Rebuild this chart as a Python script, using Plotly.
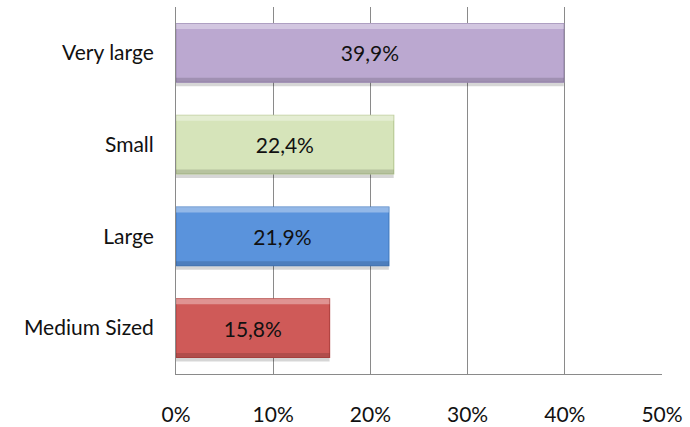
import plotly.graph_objects as go

# Company size shares (percent)
categories = ["Medium Sized", "Large", "Small", "Very large"]
values = [15.8, 21.9, 22.4, 39.9]
fill_colors = ["#CF5A58", "#5A93DC", "#D6E4BA", "#BBA8D0"]
edge_colors = ["#B24442", "#417BC4", "#BACB96", "#9E8BB6"]
x_ticks = [0, 10, 20, 30, 40, 50]
x_tick_labels = ["0%", "10%", "20%", "30%", "40%", "50%"]

labels = [f"{v:.1f}".replace(".", ",") + "%" for v in values]

FONT = "Lato, Open Sans, sans-serif"
BAR_W = 0.64

fig = go.Figure()

# soft drop shadow under each bar
fig.add_trace(go.Bar(
    x=values, y=categories, orientation="h",
    width=BAR_W, offset=-BAR_W / 2 - 0.045,
    marker=dict(color="rgba(0,0,0,0.16)", line=dict(width=0)),
    hoverinfo="skip",
))

# main bars
fig.add_trace(go.Bar(
    x=values, y=categories, orientation="h",
    width=BAR_W, offset=-BAR_W / 2,
    marker=dict(color=fill_colors, line=dict(color=edge_colors, width=1.2)),
    hoverinfo="skip",
))

# bevel: light strip along the top edge
fig.add_trace(go.Bar(
    x=values, y=categories, orientation="h",
    width=0.06, offset=BAR_W / 2 - 0.06,
    marker=dict(color="rgba(255,255,255,0.35)", line=dict(width=0)),
    hoverinfo="skip",
))

# bevel: dark strip along the bottom edge
fig.add_trace(go.Bar(
    x=values, y=categories, orientation="h",
    width=0.05, offset=-BAR_W / 2,
    marker=dict(color="rgba(0,0,0,0.14)", line=dict(width=0)),
    hoverinfo="skip",
))

# value labels centred in each bar
fig.add_trace(go.Bar(
    x=values, y=categories, orientation="h",
    width=BAR_W, offset=-BAR_W / 2,
    marker=dict(color="rgba(0,0,0,0)", line=dict(width=0)),
    text=labels, textposition="inside", insidetextanchor="middle",
    textfont=dict(family=FONT, size=21, color="#111111"),
    hoverinfo="skip",
))

fig.update_layout(
    width=690,
    height=427,
    barmode="overlay",
    margin=dict(l=176, r=28, t=7, b=53),
    paper_bgcolor="white",
    plot_bgcolor="white",
    showlegend=False,
    font=dict(family=FONT, size=21, color="#111111"),
    uniformtext=dict(minsize=21, mode="show"),
    xaxis=dict(
        range=[0, 50],
        tickvals=x_ticks,
        ticktext=x_tick_labels,
        showgrid=True,
        gridcolor="#8A8A8A",
        gridwidth=1,
        zeroline=False,
        showline=True,
        linecolor="#8A8A8A",
        linewidth=1,
        ticks="",
        ticklabelstandoff=22,
        tickfont=dict(size=21),
        automargin=False,
        fixedrange=True,
    ),
    yaxis=dict(
        range=[-0.5, 3.5],
        showgrid=False,
        showline=True,
        linecolor="#8A8A8A",
        linewidth=1,
        ticks="",
        ticklabelstandoff=17,
        tickfont=dict(size=21),
        automargin=False,
        fixedrange=True,
    ),
)

fig.write_html("out.html")
